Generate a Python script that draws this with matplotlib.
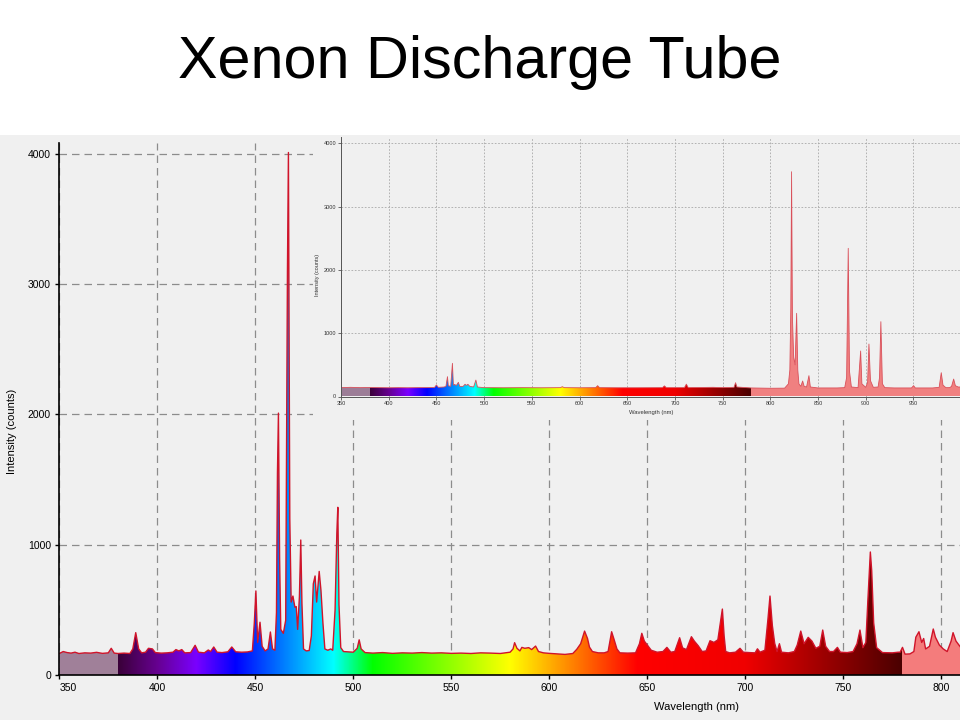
import numpy as np
import matplotlib
matplotlib.use('Agg')
import matplotlib.pyplot as plt
from matplotlib.patches import Rectangle, Polygon
from matplotlib.colors import to_rgb

plt.rcParams['font.family'] = ['Liberation Sans', 'DejaVu Sans']

# ---------------- data ----------------
title_text = 'Xenon Discharge Tube'
x_label = 'Wavelength (nm)'
y_label = 'Intensity (counts)'

main_wl = [350, 352, 354, 356, 358, 360, 363, 366, 369, 372, 375, 376.5, 378, 380,
           383, 386, 387.5, 389, 390.5, 392, 394, 395.5, 397.5, 399, 402, 405, 408,
           409.5, 411, 412.5, 414, 417, 419.3, 421, 424, 426, 427.2, 428.8, 430.5,
           433, 436, 438, 440, 443, 446, 448.5, 449.5, 450.3, 451.2, 452.4, 453.5,
           455, 456.5, 457.7, 458.8, 460, 460.8, 461.3, 461.8, 462.4, 463, 464.3,
           465.5, 466.4, 466.9, 467.6, 468.3, 469.2, 470.2, 470.9, 471.6, 472.5,
           473.2, 473.8, 474.6, 476, 477.5, 478.6, 479.6, 480.5, 481.3, 482.6,
           483.5, 484.5, 485.5, 487, 488.5, 489.5, 490.7, 491.6, 492.1, 492.7,
           493.6, 495, 497, 500, 502, 503, 504, 506, 510, 515, 520, 525, 530, 535,
           540, 545, 550, 555, 560, 565, 570, 575, 580, 581.5, 582.3, 583.5, 585,
           586, 587.5, 589.5, 591, 593, 594.5, 597, 600, 604, 608, 612, 614, 616,
           618, 619.5, 620.5, 622, 625, 628, 630, 631.8, 633, 634.5, 636, 640, 644,
           646, 647.2, 648.5, 650, 652, 655, 658, 660, 662, 664, 666.5, 668, 670,
           672.5, 674, 676, 678, 680, 682, 684, 686, 688.3, 689.2, 690, 692, 695,
           697.3, 699, 702, 705, 706.2, 707.5, 710, 711.5, 712.6, 713.8, 715, 716.2,
           717.4, 718.5, 722, 725, 726.5, 728.3, 730, 732.1, 734, 736, 738, 739.5,
           741, 743, 745, 747, 748.5, 752, 755, 757, 758.5, 760, 761.5, 762.5, 763.8,
           764.5, 765.5, 767, 770, 775, 778, 779, 780.2, 781.5, 784, 786, 787, 788.6,
           790, 791, 792, 794, 795.9, 797, 799, 801, 803, 805, 806, 807.5, 809, 810]
main_counts = [165, 180, 172, 168, 175, 165, 170, 168, 174, 166, 170, 205, 168, 165,
               168, 165, 200, 325, 200, 170, 175, 205, 200, 172, 168, 170, 175,
               195, 185, 195, 170, 172, 228, 175, 170, 192, 180, 215, 175,
               172, 178, 215, 178, 175, 177, 185, 400, 645, 250, 405, 220,
               185, 200, 330, 200, 190, 480, 1550, 2010, 900, 350, 320,
               420, 3100, 4010, 1200, 560, 606, 520, 525, 350, 600,
               1036, 550, 200, 185, 188, 300, 700, 760, 560, 795,
               650, 400, 200, 190, 200, 190, 500, 1090, 1287, 540,
               210, 180, 178, 175, 205, 270, 200, 172, 168, 172, 166, 170, 168, 172,
               168, 170, 166, 168, 165, 170, 168, 165, 175, 200, 248, 205, 185,
               212, 205, 210, 195, 222, 180, 170, 166, 162, 158, 165, 197, 240,
               337, 280, 214, 180, 170, 170, 180, 332, 275, 200, 170, 168, 170,
               240, 320, 260, 230, 190, 175, 180, 212, 175, 180, 286, 208, 195,
               294, 260, 224, 180, 185, 263, 250, 270, 506, 300, 180, 170, 175,
               205, 175, 172, 170, 201, 175, 190, 420, 606, 380, 243, 180,
               240, 175, 170, 180, 230, 337, 240, 289, 260, 205, 220, 345,
               220, 180, 180, 212, 175, 172, 180, 240, 345, 210, 250, 563, 944,
               800, 400, 210, 172, 170, 175, 175, 212, 160, 162, 180, 290, 332,
               250, 280, 200, 220, 353, 290, 230, 200, 180, 260, 325, 260, 230, 210]

inset_wl = [350, 360, 370, 380, 390, 400, 410, 420, 430, 440, 448, 450, 452, 458,
            460, 461.6, 462.5, 465, 466.8, 467.8, 469, 471, 473, 474.5, 478, 480,
            481.5, 483, 485, 489, 491.4, 493, 500, 520, 540, 560, 580, 582, 584,
            600, 617, 619, 621, 640, 660, 687, 689, 691, 710, 712, 714, 740, 750,
            762, 763.6, 765, 780, 800, 815, 819, 820.5, 821.5, 822.3, 823.2, 824.5,
            826, 827.6, 828.8, 830, 832, 833.9, 835.5, 838, 840.5, 842, 850, 860,
            870, 878, 880, 881.7, 883, 885, 892, 894.7, 896, 900, 902, 903.4, 905,
            908, 913, 914.5, 915.9, 917.5, 920, 930, 940, 948, 950.2, 952, 960, 970,
            977, 979.2, 981, 984, 988, 990, 992.2, 994, 997, 1000]
inset_counts = [140, 145, 140, 142, 140, 138, 140, 138, 140, 140, 142, 182, 145, 150,
                160, 313, 170, 160, 524, 180, 190, 175, 224, 160, 160, 193,
                175, 193, 160, 150, 260, 150, 140, 138, 140, 138, 140, 155, 140,
                138, 140, 171, 140, 138, 138, 140, 168, 140, 140, 195, 140, 145, 140,
                145, 218, 150, 135, 130, 132, 200, 420, 1400, 3551, 1250, 620,
                500, 1314, 420, 200, 160, 245, 160, 150, 329, 150, 135, 135,
                135, 140, 300, 2341, 400, 150, 140, 719, 200, 145, 220, 829, 250,
                145, 150, 300, 1182, 200, 140, 135, 135, 135, 171, 135, 135, 135,
                145, 376, 180, 140, 140, 160, 276, 170, 150, 150]

main_xticks = [350, 400, 450, 500, 550, 600, 650, 700, 750, 800]
main_yticks = [0, 1000, 2000, 3000, 4000]
inset_xticks = [350, 400, 450, 500, 550, 600, 650, 700, 750, 800, 850, 900, 950]
inset_yticks = [0, 1000, 2000, 3000, 4000]

# ---------------- style ----------------
W, H = 960, 720
BG = '#f0f0f0'
band_w = [380, 400, 420, 440, 490, 510, 580, 645, 700, 780]
band_c = ['#3a0038', '#660090', '#7a00ff', '#0000ff', '#00ffff', '#00ff00',
          '#ffff00', '#ff0000', '#f00000', '#4a0000']


def band_colors(wl, uv, ir):
    wl = np.asarray(wl, dtype=float)
    rgb = np.array([to_rgb(c) for c in band_c])
    out = np.empty((len(wl), 3))
    for k in range(3):
        out[:, k] = np.interp(wl, band_w, rgb[:, k])
    out[wl < 380] = to_rgb(uv)
    out[wl > 780] = to_rgb(ir)
    return out


def draw_spectrum(ax, wl, counts, line_color, lw, uv, ir):
    wl = np.asarray(wl, dtype=float)
    counts = np.asarray(counts, dtype=float)
    verts = np.column_stack([np.r_[wl[0], wl, wl[-1]], np.r_[0, counts, 0]])
    poly = Polygon(verts, closed=True, facecolor='none', edgecolor='none',
                   transform=ax.transData)
    ax.add_patch(poly)
    gw = np.linspace(wl[0], wl[-1], 2000)
    img = band_colors(gw, uv, ir)[None, :, :]
    im = ax.imshow(img, extent=[wl[0], wl[-1], 0, counts.max()], aspect='auto',
                   origin='lower', interpolation='nearest', zorder=2)
    im.set_clip_path(poly)
    ax.plot(wl, counts, color=line_color, lw=lw, zorder=3)


fig = plt.figure(figsize=(W / 100, H / 100), dpi=100)
fig.patch.set_facecolor('white')
fig.add_artist(Rectangle((0, 0), 1, (H - 135) / H, transform=fig.transFigure,
                         facecolor=BG, edgecolor='none', zorder=-10))

fig.text(0.5, 1 - 62 / H, title_text, ha='center', va='center', fontsize=42.7,
         color='black')

# ---------------- main axes ----------------
mx0, mx1, my0, my1 = 59.3, 960, 675, 142.7
ax = fig.add_axes([mx0 / W, (H - my0) / H, (mx1 - mx0) / W, (my0 - my1) / H],
                  zorder=1)
ax.set_facecolor(BG)
draw_spectrum(ax, main_wl, main_counts, '#d0142a', 1.0, '#a08099', '#f47c7c')
ax.set_xlim(350, 350 + (mx1 - mx0) / 1.96)
ax.set_ylim(0, (my0 - my1) / 0.1303)
ax.set_xticks(main_xticks)
ax.set_yticks(main_yticks)
ax.set_xticklabels([str(t) for t in main_xticks])
ax.set_yticklabels([str(t) for t in main_yticks])
ax.set_axisbelow(True)
ax.grid(True, color='#8c8c8c', linestyle=(0, (6, 4)), linewidth=0.9)
for s in ['top', 'right']:
    ax.spines[s].set_visible(False)
for s in ['left', 'bottom']:
    ax.spines[s].set_color('black')
    ax.spines[s].set_linewidth(1.2)
    ax.spines[s].set_zorder(5)
ax.tick_params(axis='both', length=3, width=1, color='black', labelsize=7.5,
               pad=3)
ax.get_xticklabels()[0].set_horizontalalignment('left')

fig.text(696 / W, 1 - 707 / H, x_label, ha='center', va='center', fontsize=8)
fig.text(12 / W, 1 - 431 / H, y_label, ha='center', va='center', fontsize=8,
         rotation=90)

# ---------------- inset panel ----------------
px0, px1, py0, py1 = 313, 960, 420, 135
panel = fig.add_axes([px0 / W, (H - py0) / H, (px1 - px0) / W, (py0 - py1) / H],
                     zorder=2)
panel.set_facecolor(BG)
panel.set_xticks([])
panel.set_yticks([])
for s in panel.spines.values():
    s.set_visible(False)

ix0, ix1, iy0, iy1 = 341, 960, 396.5, 137
iax = fig.add_axes([ix0 / W, (H - iy0) / H, (ix1 - ix0) / W, (iy0 - iy1) / H],
                   zorder=3)
iax.set_facecolor(BG)
draw_spectrum(iax, inset_wl, inset_counts, '#d9505a', 0.6, '#9c7d97', '#f08080')
iax.set_xlim(350, 350 + (ix1 - ix0) / 0.954)
iax.set_ylim(0, (iy0 - iy1) / 0.0633)
iax.set_xticks(inset_xticks)
iax.set_yticks(inset_yticks)
iax.set_xticklabels([str(t) for t in inset_xticks])
iax.set_yticklabels([str(t) for t in inset_yticks])
iax.set_axisbelow(True)
iax.grid(True, color='#a8a8a8', linestyle=(0, (2, 2)), linewidth=0.6)
for s in ['top', 'right']:
    iax.spines[s].set_visible(False)
for s in ['left', 'bottom']:
    iax.spines[s].set_color('#555555')
    iax.spines[s].set_linewidth(0.7)
    iax.spines[s].set_zorder(5)
iax.tick_params(axis='both', length=2, width=0.6, color='#555555',
                labelsize=4, pad=1.5, labelcolor='#333333')
fig.text(651 / W, 1 - 412.7 / H, x_label, ha='center', va='center', fontsize=4.2,
         color='#333333', zorder=4)
fig.text(317 / W, 1 - 275 / H, y_label, ha='center', va='center', fontsize=4,
         rotation=90, color='#333333', zorder=4)

fig.savefig('out.png', dpi=100)
